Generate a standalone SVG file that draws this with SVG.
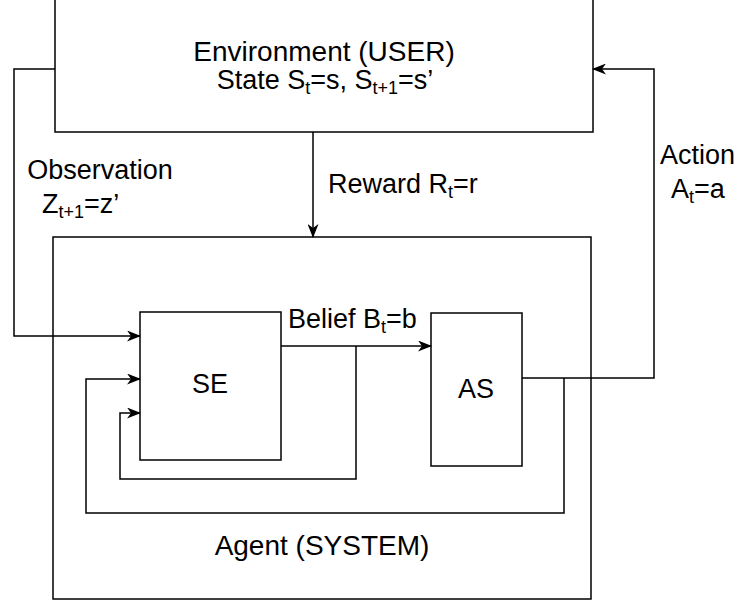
<svg xmlns="http://www.w3.org/2000/svg" width="742" height="604" viewBox="0 0 742 604">
<defs>
<style>
.box{fill:#fff;stroke:#000;stroke-width:1.5}
.ln{fill:none;stroke:#000;stroke-width:1.5}
.t{font-family:"Liberation Sans",Arial,sans-serif;font-size:27px;fill:#000}
.s{font-size:18px}
</style>
<marker id="ah" markerUnits="userSpaceOnUse" viewBox="0 0 14 11" refX="13" refY="5.5" markerWidth="14" markerHeight="11" orient="auto">
<path d="M0,0 L14,5.5 L0,11 L4,5.5 z" fill="#000"/>
</marker>
</defs>
<rect width="742" height="604" fill="#fff"/>
<g id="environment">
<rect class="box" x="55" y="-5" width="538" height="137"/>
<text class="t" x="324" y="61" text-anchor="middle" style="font-size:28px">Environment (USER)</text>
<text class="t" x="325" y="89" text-anchor="middle">State S<tspan class="s" dy="5">t</tspan><tspan dy="-5">=s, S</tspan><tspan class="s" dy="5">t+1</tspan><tspan dy="-5">=s’</tspan></text>
</g>
<g id="agent">
<rect class="box" x="53" y="237" width="538" height="362"/>
<text class="t" x="322" y="555" text-anchor="middle" style="font-size:28px">Agent (SYSTEM)</text>
</g>
<g id="se">
<rect class="box" x="140" y="312" width="141" height="148"/>
<text class="t" x="210" y="393" text-anchor="middle">SE</text>
</g>
<g id="as">
<rect class="box" x="431" y="313" width="91" height="153"/>
<text class="t" x="476" y="398" text-anchor="middle">AS</text>
</g>
<g id="connectors">
<path class="ln" d="M55,69 H14 V336 H140" marker-end="url(#ah)"/>
<path class="ln" d="M313,132 V237" marker-end="url(#ah)"/>
<path class="ln" d="M522,378 H654 V69 H593" marker-end="url(#ah)"/>
<path class="ln" d="M281,346 H431" marker-end="url(#ah)"/>
<path class="ln" d="M356,346 V479 H120 V413 H140" marker-end="url(#ah)"/>
<path class="ln" d="M564,378 V513 H86 V379 H140" marker-end="url(#ah)"/>
<text class="t" x="100" y="179" text-anchor="middle">Observation</text>
<text class="t" x="42" y="213">Z<tspan class="s" dy="5">t+1</tspan><tspan dy="-5">=z’</tspan></text>
<text class="t" x="328" y="193">Reward R<tspan class="s" dy="5">t</tspan><tspan dy="-5">=r</tspan></text>
<text class="t" x="288" y="328">Belief B<tspan class="s" dy="5">t</tspan><tspan dy="-5">=b</tspan></text>
<text class="t" x="660" y="164">Action</text>
<text class="t" x="671" y="198">A<tspan class="s" dy="5">t</tspan><tspan dy="-5">=a</tspan></text>
</g>
</svg>
